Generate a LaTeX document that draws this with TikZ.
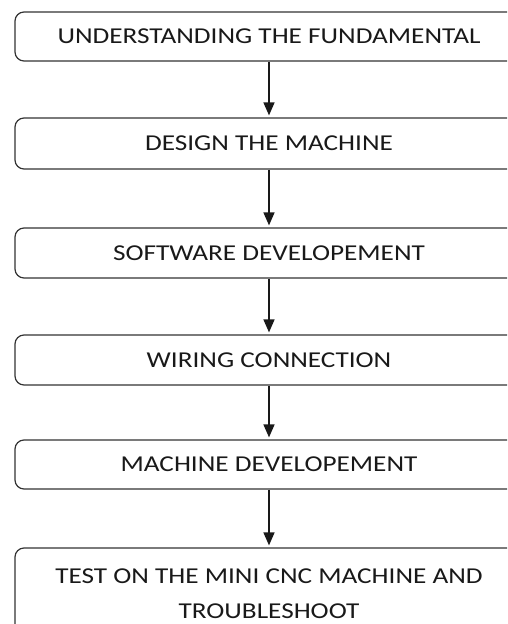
\documentclass[tikz,border=0pt]{standalone}
\usepackage{fontspec}
\usepackage{graphicx}
\setmainfont{Carlito}
\usetikzlibrary{arrows.meta}
% wide caps used in every stage label
\newcommand{\widetext}[1]{\scalebox{1.2}[1]{#1}}
\begin{document}
\begin{tikzpicture}[x=1pt,y=-1pt,
  stage/.style={draw=black!80, line width=1.2pt, rounded corners=9pt,
    minimum width=508pt, inner sep=0pt, text=black!90,
    font=\fontsize{22.7}{35}\selectfont},
  flow/.style={line width=1.5pt, draw=black!90,
    -{Triangle[width=11pt,length=13pt]}, shorten >=2pt}]
\useasboundingbox (0,0) rectangle (507,624);
\clip (0,0) rectangle (507,624);

\node[stage, minimum height=49pt] (s1) at (269,36.5)
  {\widetext{UNDERSTANDING THE FUNDAMENTAL}};
\node[stage, minimum height=51pt] (s2) at (269,143.5)
  {\widetext{DESIGN THE MACHINE}};
\node[stage, minimum height=50pt] (s3) at (269,253)
  {\widetext{SOFTWARE DEVELOPEMENT}};
\node[stage, minimum height=50pt] (s4) at (269,360)
  {\widetext{WIRING CONNECTION}};
\node[stage, minimum height=49pt] (s5) at (269,464.5)
  {\widetext{MACHINE DEVELOPEMENT}};
\node[stage, minimum height=91pt] (s6) at (269,593.5)
  {\widetext{\begin{tabular}{@{}c@{}}TEST ON THE MINI CNC MACHINE AND\\TROUBLESHOOT\end{tabular}}};

\draw[flow] (s1) -- (s2);
\draw[flow] (s2) -- (s3);
\draw[flow] (s3) -- (s4);
\draw[flow] (s4) -- (s5);
\draw[flow] (s5) -- (s6);
\end{tikzpicture}
\end{document}
